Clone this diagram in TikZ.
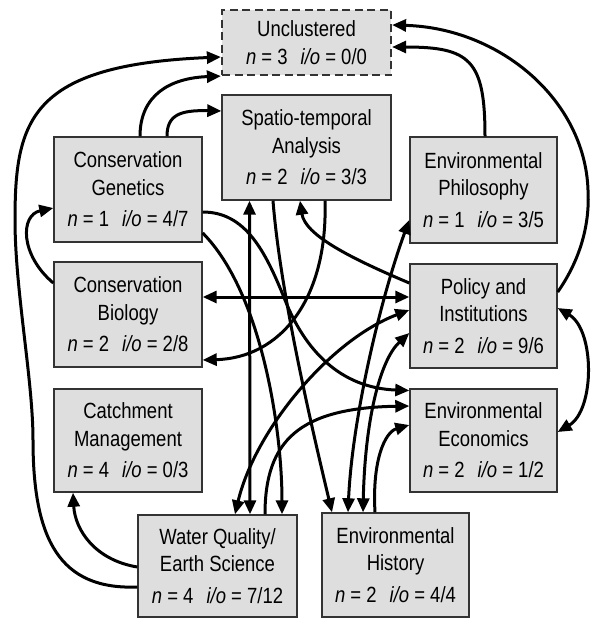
\documentclass[tikz,border=0pt]{standalone}
\usepackage{fontspec}
\setmainfont{Liberation Sans}[FakeStretch=0.84]
\usetikzlibrary{arrows.meta,calc}
\begin{document}
\begin{tikzpicture}[x=1pt,y=-1pt,
  cluster/.style={draw=black!80, line width=1.4pt, fill=black!13, align=center,
    inner sep=0pt, font=\fontsize{22}{27.5}\selectfont,
    minimum width=148pt, minimum height=105pt},
  loose/.style={dash pattern=on 8pt off 4.5pt, line width=2.2pt},
  tip/.style={Triangle[length=14pt,width=12pt]},
  link/.style={line width=3pt, -{Triangle[length=14pt,width=12pt]}},
  both/.style={line width=3pt, {Triangle[length=14pt,width=12pt]}-{Triangle[length=14pt,width=12pt]}}]
\useasboundingbox (0,0) rectangle (590,619);

% clusters
\node[cluster, loose, minimum width=169pt, minimum height=65pt] (u) at (306.5,42.5)
  {Unclustered\\\textit{n} = 3\hspace{13pt}\textit{i/o} = 0/0};
\node[cluster, minimum width=169pt] (s) at (306.5,147.5)
  {Spatio-temporal\\Analysis\\[4pt]\textit{n} = 2\hspace{13pt}\textit{i/o} = 3/3};
\node[cluster] (cg) at (128,189.5)
  {Conservation\\Genetics\\[4pt]\textit{n} = 1\hspace{13pt}\textit{i/o} = 4/7};
\node[cluster] (cb) at (128,314.5)
  {Conservation\\Biology\\[4pt]\textit{n} = 2\hspace{13pt}\textit{i/o} = 2/8};
\node[cluster, minimum height=103pt] (cm) at (128,440.5)
  {Catchment\\Management\\[4pt]\textit{n} = 4\hspace{13pt}\textit{i/o} = 0/3};
\node[cluster, minimum width=159pt, minimum height=102pt] (wq) at (217.5,566)
  {Water Quality/\\Earth Science\\[4pt]\textit{n} = 4\hspace{13pt}\textit{i/o} = 7/12};
\node[cluster, minimum width=147pt, minimum height=104pt] (eh) at (395.5,565)
  {Environmental\\History\\[4pt]\textit{n} = 2\hspace{13pt}\textit{i/o} = 4/4};
\node[cluster, minimum width=147pt, minimum height=106pt] (ep) at (483.5,190)
  {Environmental\\Philosophy\\[4pt]\textit{n} = 1\hspace{13pt}\textit{i/o} = 3/5};
\node[cluster, minimum width=147pt, minimum height=104pt] (pi) at (483.5,316)
  {Policy and\\Institutions\\[4pt]\textit{n} = 2\hspace{13pt}\textit{i/o} = 9/6};
\node[cluster, minimum width=147pt, minimum height=103pt] (ee) at (483.5,440.5)
  {Environmental\\Economics\\[4pt]\textit{n} = 2\hspace{13pt}\textit{i/o} = 1/2};

% links leaving on the left
\draw[link] ($(wq.west)+(0,21)$) .. controls (60,590) and (33,540) .. (33,440)
  .. controls (33,380) and (15,290) .. (15,220)
  .. controls (15,120) and (30,65) .. ($(u.west)+(0,14.5)$);
\draw[link] ($(wq.west)+(0,1)$) .. controls (95,560) and (75,530) .. ($(cm.south)+(-55,0)$);
\draw[link] ($(cb.west)+(0,-31.5)$) .. controls (20,255) and (20,215) .. ($(cg.west)+(0,18.5)$);

% links leaving the top of Conservation Genetics
\draw[link] ($(cg.north)+(12,0)$) .. controls (140,95) and (170,78) .. (u.south west);
\draw[link] ($(cg.north)+(39,0)$) .. controls (167,115) and (180,110) .. ($(s.west)+(0,-36.5)$);

% straight two-way links
\draw[both] ($(cb.east)+(0,-17.5)$) -- ($(pi.west)+(0,-19)$);
\draw[both] ($(s.south)+(-57,0)$) -- ($(wq.north)+(32.5,0)$);

% links through the middle
\draw[link] ($(s.south)+(18.5,0)$) .. controls (328,300) and (280,358) .. ($(cb.east)+(0,45.5)$);
\draw[link] ($(pi.west)+(0,-33)$) .. controls (350,258) and (305,235) .. ($(s.south)+(-6.5,0)$);
\draw[link] ($(cg.east)+(0,22.5)$) .. controls (245,212) and (265,250) .. (285,300)
  .. controls (305,350) and (340,388) .. ($(ee.west)+(0,-50)$);
\draw[link] ($(cg.east)+(0,43.5)$) .. controls (262,293) and (282,430) .. ($(wq.north)+(64.5,0)$);
\draw[link] ($(s.south)+(-33.5,0)$) .. controls (280,290) and (310,420) .. ($(eh.north)+(-63.5,0)$);
\draw[both] ($(wq.north)+(17.5,0)$) .. controls (255,430) and (330,340) .. ($(pi.west)+(0,-6)$);
\draw[both] ($(eh.north)+(-47.5,0)$) .. controls (352,420) and (380,300) .. ($(ep.west)+(0,30)$);
\draw[both] ($(eh.north)+(-32.5,0)$) .. controls (365,420) and (380,360) .. ($(pi.west)+(0,17)$);
\draw[link] ($(wq.north)+(47.5,0)$) .. controls (265,440) and (300,408) .. ($(ee.west)+(0,-34.5)$);
\draw[link] ($(eh.north)+(-20.5,0)$) .. controls (372,460) and (385,432) .. ($(ee.west)+(0,-15.5)$);

% links on the right
\draw[link] ($(ep.north)+(1.5,0)$) .. controls (485,60) and (470,47) .. ($(u.east)+(0,4.5)$);
\draw[link] ($(pi.east)+(0,-24)$) .. controls (580,260) and (590,225) .. (588,190)
  .. controls (585,100) and (500,28) .. ($(u.east)+(0,-17.5)$);
\draw[both] ($(pi.east)+(0,-8)$) .. controls (595,330) and (595,410) .. ($(ee.east)+(0,-8.5)$);
\end{tikzpicture}
\end{document}
